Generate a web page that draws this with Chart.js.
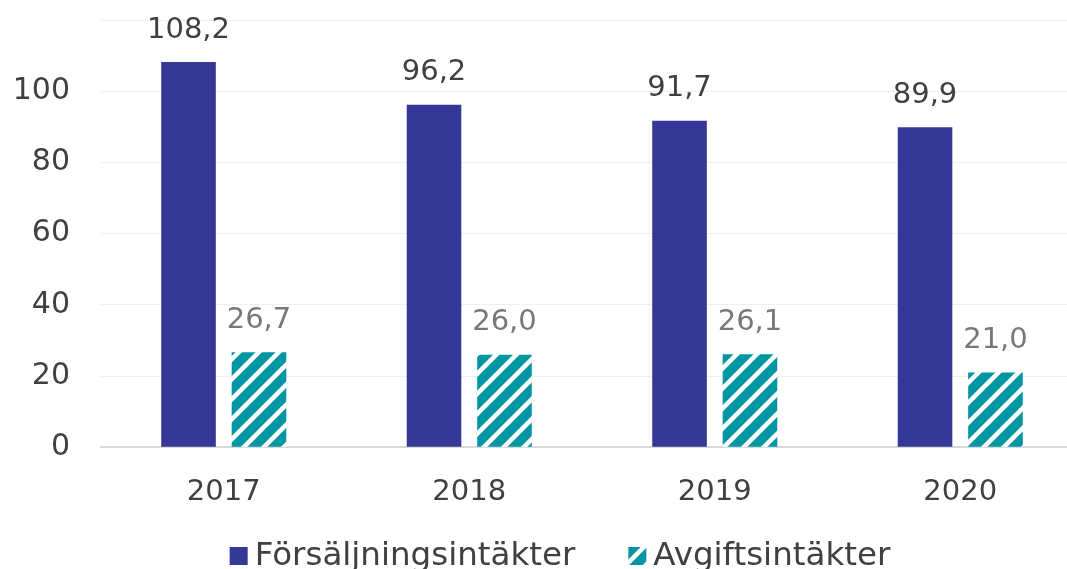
<!DOCTYPE html>
<html>
<head>
<meta charset="utf-8">
<script src="https://cdn.jsdelivr.net/npm/chart.js@4"></script>
<style>
  html, body { margin: 0; padding: 0; background: #fff; overflow: hidden; }
  #wrap { width: 1085px; height: 598px; margin-top: -29px; }
</style>
</head>
<body>
<div id="wrap"><canvas id="chart"></canvas></div>
<script>
// --- data ---
const years = ['2017', '2018', '2019', '2020'];
const salesIncome = [108.2, 96.2, 91.7, 89.9];   // Försäljningsintäkter
const feeIncome = [26.7, 26.0, 26.1, 21.0];      // Avgiftsintäkter
const seriesNames = ['Försäljningsintäkter', 'Avgiftsintäkter'];

const FONT = '"DejaVu Sans", sans-serif';
const BLUE = '#353896';
const TEAL = '#0096a3';

// diagonal stripe pattern for the second series
function makeHatch() {
    const s = 20;
    const c = document.createElement('canvas');
    c.width = s; c.height = s;
    const g = c.getContext('2d');
    g.fillStyle = TEAL;
    g.fillRect(0, 0, s, s);
    g.strokeStyle = '#fff';
    g.lineWidth = 4.5;
    g.beginPath();
    g.moveTo(-2, s + 2); g.lineTo(s + 2, -2);
    g.moveTo(-s / 2 - 2, s / 2 + 2); g.lineTo(s / 2 + 2, -s / 2 - 2);
    g.moveTo(s / 2 - 2, s * 1.5 + 2); g.lineTo(s * 1.5 + 2, s / 2 - 2);
    g.stroke();
    return g.createPattern(c, 'repeat');
}

// value labels above bars, Swedish decimal comma
const valueLabels = {
    id: 'valueLabels',
    afterDatasetsDraw(chart) {
        const ctx = chart.ctx;
        ctx.save();
        ctx.font = '29px ' + FONT;
        ctx.textAlign = 'center';
        ctx.textBaseline = 'middle';
        chart.data.datasets.forEach((ds, i) => {
            const meta = chart.getDatasetMeta(i);
            ctx.fillStyle = i === 0 ? '#404040' : '#787878';
            meta.data.forEach((bar, j) => {
                const txt = ds.data[j].toFixed(1).replace('.', ',');
                ctx.fillText(txt, bar.x, bar.y - 32);
            });
        });
        ctx.restore();
    }
};

// legend under the axis: small box, tight gap to the text
const bottomLegend = {
    id: 'bottomLegend',
    afterDraw(chart) {
        const ctx = chart.ctx;
        const box = 18, gap = 7, spacing = 53;
        ctx.save();
        ctx.font = '32.5px ' + FONT;
        ctx.textBaseline = 'middle';
        const items = chart.data.datasets.map(ds => ({
            text: ds.label, fill: ds.backgroundColor, w: ctx.measureText(ds.label).width
        }));
        const total = items.reduce((a, it) => a + box + gap + it.w, 0) + spacing * (items.length - 1);
        let x = 560 - total / 2;
        const y = chart.height - 13;
        items.forEach(it => {
            ctx.fillStyle = it.fill;
            ctx.fillRect(x, y - box / 2, box, box);
            ctx.fillStyle = '#404040';
            ctx.fillText(it.text, x + box + gap, y + 1);
            x += box + gap + it.w + spacing;
        });
        ctx.restore();
    }
};

document.addEventListener('DOMContentLoaded', () => {
    const ctx = document.getElementById('chart').getContext('2d');
    new Chart(ctx, {
        type: 'bar',
        data: {
            labels: years,
            datasets: [
                { label: seriesNames[0], data: salesIncome, backgroundColor: BLUE,
                  categoryPercentage: 0.574, barPercentage: 0.775 },
                { label: seriesNames[1], data: feeIncome, backgroundColor: makeHatch(),
                  categoryPercentage: 0.574, barPercentage: 0.775 }
            ]
        },
        options: {
            responsive: true,
            maintainAspectRatio: false,
            animation: false,
            layout: { padding: { top: 0, left: 0, right: 2, bottom: 31 } },
            plugins: {
                tooltip: { enabled: false },
                legend: { display: false }
            },
            scales: {
                x: {
                    grid: { display: false, drawTicks: false },
                    border: { color: '#d9d9d9', width: 2 },
                    ticks: { color: '#404040', font: { family: FONT, size: 29 }, padding: 28 }
                },
                y: {
                    min: 0,
                    max: 120,
                    afterFit: s => { s.width = 101; },
                    ticks: {
                        stepSize: 20,
                        color: '#404040',
                        font: { family: FONT, size: 30 },
                        padding: 31,
                        callback: v => (v > 100 ? '' : v)
                    },
                    grid: { drawTicks: false, color: '#efefef' },
                    border: { display: false }
                }
            }
        },
        plugins: [valueLabels, bottomLegend]
    });
});
</script>
</body>
</html>
